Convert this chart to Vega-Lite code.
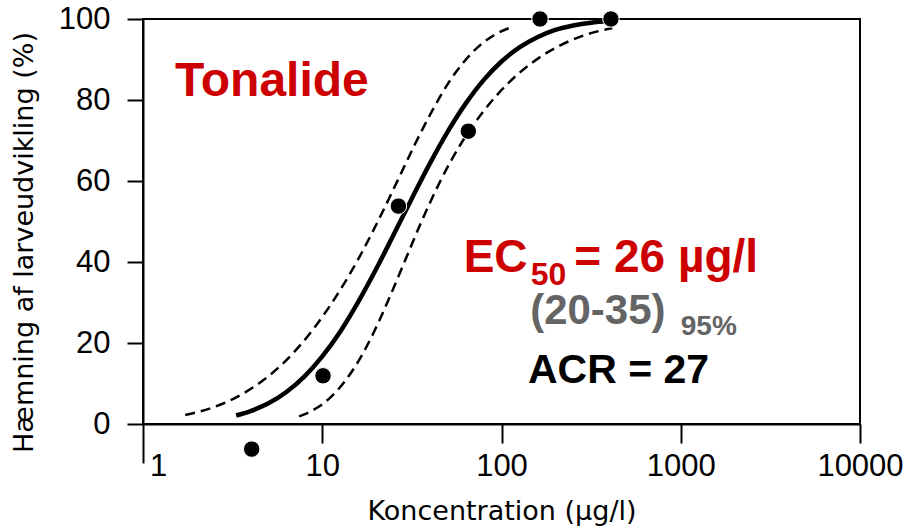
{
  "$schema": "https://vega.github.io/schema/vega-lite/v6.json",
  "width": 717,
  "height": 405,
  "autosize": {"type": "none"},
  "padding": {"left": 143, "top": 19, "right": 48, "bottom": 102},
  "background": "white",
  "config": {
    "view": {"stroke": "black", "strokeWidth": 2},
    "axis": {
      "grid": false,
      "domainColor": "black",
      "domainWidth": 2,
      "tickColor": "black",
      "tickWidth": 2,
      "labelColor": "black",
      "titleColor": "black",
      "labelFont": "Liberation Sans",
      "titleFont": "DejaVu Sans",
      "titleFontWeight": "normal"
    }
  },
  "datasets": {
    "points": [
      {"x": 4.04, "y": -6.2},
      {"x": 10.1, "y": 11.9},
      {"x": 26.6, "y": 53.8},
      {"x": 65.3, "y": 72.3},
      {"x": 164, "y": 100},
      {"x": 408, "y": 100}
    ],
    "main": [
      {"x": 3.31, "y": 2.1},
      {"x": 3.98, "y": 3.2},
      {"x": 5.01, "y": 5.1},
      {"x": 6.31, "y": 7.9},
      {"x": 7.94, "y": 11.7},
      {"x": 10.0, "y": 16.7},
      {"x": 12.59, "y": 22.8},
      {"x": 15.85, "y": 30.1},
      {"x": 19.95, "y": 38.2},
      {"x": 25.12, "y": 46.9},
      {"x": 31.62, "y": 55.7},
      {"x": 39.81, "y": 64.3},
      {"x": 50.12, "y": 72.2},
      {"x": 63.1, "y": 79.1},
      {"x": 79.43, "y": 84.9},
      {"x": 100, "y": 89.5},
      {"x": 125.9, "y": 93.0},
      {"x": 158.5, "y": 95.5},
      {"x": 199.5, "y": 97.3},
      {"x": 251.2, "y": 98.4},
      {"x": 316.2, "y": 99.1},
      {"x": 398.1, "y": 99.5}
    ],
    "lower": [
      {"x": 1.72, "y": 2.2},
      {"x": 2.42, "y": 4.0},
      {"x": 3.35, "y": 6.7},
      {"x": 4.62, "y": 10.6},
      {"x": 6.35, "y": 15.9},
      {"x": 8.66, "y": 22.7},
      {"x": 11.71, "y": 30.9},
      {"x": 15.61, "y": 40.1},
      {"x": 20.42, "y": 50.0},
      {"x": 26.19, "y": 59.9},
      {"x": 33.0, "y": 69.2},
      {"x": 41.0, "y": 77.3},
      {"x": 50.4, "y": 84.1},
      {"x": 61.6, "y": 89.4},
      {"x": 74.9, "y": 93.3},
      {"x": 90.8, "y": 96.0},
      {"x": 114.1, "y": 98.0}
    ],
    "upper": [
      {"x": 7.42, "y": 1.9},
      {"x": 9.35, "y": 4.0},
      {"x": 11.19, "y": 6.7},
      {"x": 13.41, "y": 10.6},
      {"x": 16.11, "y": 15.9},
      {"x": 19.42, "y": 22.7},
      {"x": 23.54, "y": 30.9},
      {"x": 28.81, "y": 40.1},
      {"x": 35.79, "y": 50.0},
      {"x": 45.49, "y": 59.9},
      {"x": 59.4, "y": 69.2},
      {"x": 79.6, "y": 77.3},
      {"x": 108.7, "y": 84.1},
      {"x": 150.1, "y": 89.4},
      {"x": 208.5, "y": 93.3},
      {"x": 291.1, "y": 96.0},
      {"x": 415.3, "y": 97.8}
    ],
    "labels": [
      {"part": "title", "label": "Tonalide", "x": 1.508, "y": 80.9},
      {"part": "ec", "label": "EC", "x": 61.5, "y": 37.5},
      {"part": "sub", "label": "50", "x": 145.5, "y": 34.3},
      {"part": "ec", "label": "= 26 µg/l", "x": 255.0, "y": 37.5},
      {"part": "ci", "label": "(20-35)", "x": 144.5, "y": 24.8},
      {"part": "pct", "label": "95%", "x": 1000, "y": 22.0},
      {"part": "acr", "label": "ACR = 27", "x": 140.5, "y": 10.05}
    ]
  },
  "encoding": {
    "x": {
      "field": "x",
      "type": "quantitative",
      "scale": {"type": "log", "domain": [1, 10000], "nice": false},
      "axis": {
        "values": [1, 10, 100, 1000, 10000],
        "format": "d",
        "title": "Koncentration (µg/l)",
        "titleFontSize": 27,
        "titleY": 95,
        "titleBaseline": "alphabetic",
        "labelFontSize": 31,
        "labelPadding": {"condition": {"test": "datum.value === 1", "value": -12}, "value": 8},
        "labelFlush": false,
        "labelOverlap": false,
        "tickSize": {"condition": {"test": "datum.value === 1", "value": 39}, "value": 19},
        "labelOffset": {"condition": {"test": "datum.value === 1", "value": 15}, "value": 0}
      }
    },
    "y": {
      "field": "y",
      "type": "quantitative",
      "scale": {"domain": [0, 100], "nice": false, "zero": false},
      "axis": {
        "values": [0, 20, 40, 60, 80, 100],
        "title": "Hæmning af larveudvikling (%)",
        "titleFontSize": 27,
        "titleX": -111,
        "titleY": 223,
        "titleBaseline": "alphabetic",
        "titleAngle": -90,
        "labelFontSize": 31,
        "labelPadding": 17,
        "tickSize": 16
      }
    }
  },
  "layer": [
    {
      "data": {"name": "lower"},
      "mark": {"type": "line", "color": "black", "strokeWidth": 2.5, "strokeDash": [10, 6], "interpolate": "monotone"}
    },
    {
      "data": {"name": "upper"},
      "mark": {"type": "line", "color": "black", "strokeWidth": 2.5, "strokeDash": [10, 6], "interpolate": "monotone"}
    },
    {
      "data": {"name": "main"},
      "mark": {"type": "line", "color": "black", "strokeWidth": 4.5, "interpolate": "monotone"}
    },
    {
      "data": {"name": "points"},
      "mark": {"type": "point", "shape": "circle", "filled": true, "fill": "black", "stroke": "white", "strokeWidth": 1, "size": 270, "opacity": 1, "clip": false}
    },
    {
      "data": {"name": "labels"},
      "transform": [{"filter": "datum.part === 'title'"}],
      "mark": {"type": "text", "align": "left", "baseline": "alphabetic", "font": "Liberation Sans", "fontWeight": "bold", "fontSize": 48, "color": "#cc0000"},
      "encoding": {"text": {"field": "label"}}
    },
    {
      "data": {"name": "labels"},
      "transform": [{"filter": "datum.part === 'ec'"}],
      "mark": {"type": "text", "align": "left", "baseline": "alphabetic", "font": "Liberation Sans", "fontWeight": "bold", "fontSize": 46, "color": "#cc0000"},
      "encoding": {"text": {"field": "label"}}
    },
    {
      "data": {"name": "labels"},
      "transform": [{"filter": "datum.part === 'sub'"}],
      "mark": {"type": "text", "align": "left", "baseline": "alphabetic", "font": "Liberation Sans", "fontWeight": "bold", "fontSize": 32, "color": "#cc0000"},
      "encoding": {"text": {"field": "label"}}
    },
    {
      "data": {"name": "labels"},
      "transform": [{"filter": "datum.part === 'ci'"}],
      "mark": {"type": "text", "align": "left", "baseline": "alphabetic", "font": "Liberation Sans", "fontWeight": "bold", "fontSize": 42, "color": "#646464"},
      "encoding": {"text": {"field": "label"}}
    },
    {
      "data": {"name": "labels"},
      "transform": [{"filter": "datum.part === 'pct'"}],
      "mark": {"type": "text", "align": "left", "baseline": "alphabetic", "font": "Liberation Sans", "fontWeight": "bold", "fontSize": 28, "color": "#646464"},
      "encoding": {"text": {"field": "label"}}
    },
    {
      "data": {"name": "labels"},
      "transform": [{"filter": "datum.part === 'acr'"}],
      "mark": {"type": "text", "align": "left", "baseline": "alphabetic", "font": "Liberation Sans", "fontWeight": "bold", "fontSize": 41, "color": "black"},
      "encoding": {"text": {"field": "label"}}
    }
  ]
}
